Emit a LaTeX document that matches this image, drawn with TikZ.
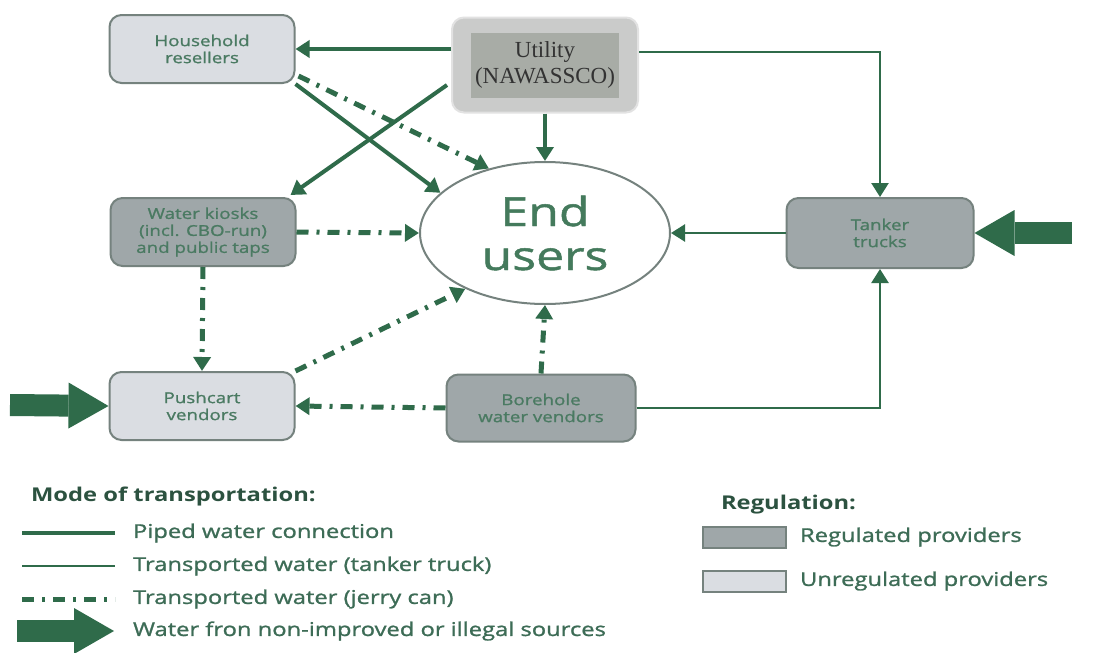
\documentclass[tikz,border=0pt]{standalone}
\usepackage{fontspec}
\setmainfont{Open Sans}[FakeStretch=1.25]
\newfontfamily\semib{Open Sans}[FakeStretch=1.25,FakeBold=1.2]
\newfontfamily\utilfont{Liberation Serif}
\usetikzlibrary{arrows.meta,positioning,calc,shapes.geometric}
\usepackage{xcolor}
\definecolor{pipegreen}{HTML}{2F6B4A}
\definecolor{regfill}{HTML}{9FA7A9}
\definecolor{unregfill}{HTML}{DADDE2}
\definecolor{frame}{HTML}{75827E}
\definecolor{boxtext}{HTML}{4A7A62}
\definecolor{legtext}{HTML}{3D6C56}
\definecolor{legtitle}{HTML}{2C5240}
\definecolor{utilout}{HTML}{CACBCA}
\definecolor{utilin}{HTML}{A8ACA6}
\tikzset{
  every node/.style={font=\semib\fontsize{7.5}{8.5}\selectfont,text=boxtext},
  prov/.style={draw=frame,line width=1pt,rounded corners=6pt,minimum width=92.5pt,minimum height=34pt,align=center,inner sep=2pt},
  regbox/.style={prov,fill=regfill},
  unregbox/.style={prov,fill=unregfill},
  piped/.style={-{Triangle[length=7pt,width=8.5pt]},line width=2pt,draw=pipegreen},
  truckline/.style={-{Triangle[length=7pt,width=8.5pt]},line width=1.2pt,draw=pipegreen},
  jerry/.style={-{Triangle[length=7pt,width=8.5pt]},line width=2.5pt,draw=pipegreen,dash pattern=on 6pt off 4pt on 1.5pt off 4pt},
  bigarrow/.style={line width=11pt,draw=pipegreen,-{Triangle[length=20pt,width=23pt,line width=0pt]}},
  legtxt/.style={anchor=west,font=\semib\fontsize{9.5}{11}\selectfont,text=legtext},
  legttl/.style={anchor=west,font=\fontsize{9.5}{11}\selectfont\bfseries,text=legtitle},
  swatch/.style={draw=frame,line width=1pt,minimum width=41.5pt,minimum height=10.5pt,inner sep=0pt},
}
\begin{document}
\begin{tikzpicture}[x=0.5pt,y=-0.5pt]
\useasboundingbox[fill=white] (0,0) rectangle (1094,653);

% providers
\node[unregbox] (resellers) at (202,49) {Household\\resellers};
\node[draw=utilout!90!black!40,fill=utilout,line width=1pt,rounded corners=6pt,minimum width=93pt,minimum height=47.5pt] (utility) at (545,65) {};
\node[fill=utilin,minimum width=74pt,minimum height=32.5pt,align=center,inner sep=1pt,font=\utilfont\fontsize{11.5}{13}\selectfont,text=black!80] (utilinner) at (utility.center) {Utility\\(NAWASSCO)};
\node[regbox] (kiosks) at (203,232) {Water kiosks\\(incl. CBO-run)\\and public taps};
\node[regbox,minimum width=93.5pt,minimum height=35pt] (tanker) at (880,233) {Tanker\\trucks};
\node[unregbox] (pushcart) at (202,406) {Pushcart\\vendors};
\node[regbox,minimum width=94.5pt,minimum height=33.5pt] (borehole) at (541,408) {Borehole\\water vendors};
\node[ellipse,draw=frame,fill=white,line width=1pt,minimum width=125pt,minimum height=71pt,inner sep=0pt,align=center,font=\semib\fontsize{20}{22}\selectfont,text=pipegreen!90] (endusers) at (545,233) {End\\users};

% outside sources
\coordinate (leftsrc) at (10,405);
\coordinate (rightsrc) at (1072,233);

% piped water
\draw[piped] (utility.west |- resellers.east) -- (resellers.east);
\draw[piped] ($(utility.west)+(-4,20)$) -- ($(kiosks.north east)+(-6,-2)$);
\draw[piped] (resellers.south east) -- (endusers.159);
\draw[piped] (utility.south) -- (endusers.north);

% tanker trucks
\draw[truckline] ($(utility.east)+(0,-13)$) -| (tanker.north);
\draw[truckline] (tanker.west) -- (endusers.east);
\draw[truckline] (borehole.east) -| (tanker.south);

% jerry cans
\draw[jerry] ($(resellers.south east)+(3,-8)$) -- (endusers.131);
\draw[jerry] (kiosks.east) -- (endusers.west);
\draw[jerry] (kiosks.south) -- (pushcart.north);
\draw[jerry] (pushcart.north east) -- (endusers.215);
\draw[jerry] (borehole.north) -- (endusers.south);
\draw[jerry] (borehole.west) -- (pushcart.east);

% non-improved sources
\draw[bigarrow] (leftsrc) -- (pushcart.west);
\draw[bigarrow] (rightsrc) -- (tanker.east);

% legend
\node[legttl] (modetitle) at (24,497) {Mode of transportation:};
\node[legtxt] (legpipe) at (126,533) {Piped water connection};
\node[legtxt] (legtruck) at (126,566) {Transported water (tanker truck)};
\node[legtxt] (legjerry) at (126,599) {Transported water (jerry can)};
\node[legtxt] (legsrc) at (126,631) {Water fron non-improved or illegal sources};
\coordinate (pipeA) at (22,533);  \coordinate (pipeB) at (115,533);
\coordinate (truckA) at (22,566); \coordinate (truckB) at (115,566);
\coordinate (jerryA) at (22,599); \coordinate (jerryB) at (115,599);
\coordinate (srcA) at (17,631);   \coordinate (srcB) at (114,631);
\draw[line width=2pt,draw=pipegreen] (pipeA) -- (pipeB);
\draw[line width=1.2pt,draw=pipegreen] (truckA) -- (truckB);
\draw[line width=2.5pt,draw=pipegreen,dash pattern=on 6pt off 4pt on 1.5pt off 4pt] (jerryA) -- (jerryB);
\draw[bigarrow] (srcA) -- (srcB);

\node[legttl] (regtitle) at (714,505) {Regulation:};
\node[swatch,fill=regfill] (regsw) at (744,537) {};
\node[swatch,fill=unregfill] (unregsw) at (744,581) {};
\node[legtxt] (legreg) at (793,537) {Regulated providers};
\node[legtxt] (legunreg) at (793,581) {Unregulated providers};
\end{tikzpicture}
\end{document}
